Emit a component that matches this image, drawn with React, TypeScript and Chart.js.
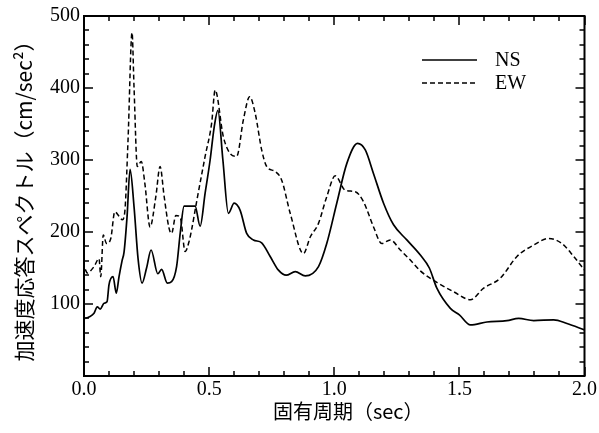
import React, { useEffect, useRef } from 'react';
import { Chart, registerables } from 'chart.js';

Chart.register(...registerables);

// ---- data (period in sec, spectral acceleration in cm/sec^2) ----
const nsPeriod = [
  0.005, 0.02, 0.04, 0.053, 0.065, 0.08, 0.092, 0.1, 0.116, 0.129, 0.14, 0.152, 0.16, 0.172, 0.184,
  0.2, 0.216, 0.232, 0.25, 0.268, 0.295, 0.31, 0.333, 0.35, 0.37, 0.385, 0.4, 0.444, 0.464, 0.484,
  0.504, 0.52, 0.535, 0.555, 0.577, 0.6, 0.624, 0.65, 0.677, 0.71, 0.744, 0.777, 0.808, 0.844, 0.884,
  0.937, 0.97, 1.01, 1.05, 1.093, 1.124, 1.157, 1.197, 1.237, 1.29, 1.344, 1.38, 1.41, 1.464, 1.5,
  1.544, 1.61, 1.69, 1.737, 1.797, 1.877, 1.93, 2.0,
];
const nsAccel = [
  80, 82, 87, 96, 93, 101, 103, 127, 138, 115, 138, 160, 172, 221, 287,
  235, 163, 129, 150, 175, 142, 148, 129, 131, 152, 200, 236, 236, 208, 254,
  300, 345, 369, 300, 226, 240, 230, 198, 189, 185, 166, 147, 140, 145, 139,
  152, 184, 240, 295, 323, 314, 281, 240, 210, 189, 168, 150, 122, 94, 85,
  71, 75, 77, 80, 77, 78, 73, 64,
];
const ewPeriod = [
  0.005, 0.013, 0.04, 0.06, 0.067, 0.077, 0.09, 0.107, 0.123, 0.14, 0.153, 0.163, 0.176, 0.192, 0.2,
  0.213, 0.229, 0.243, 0.264, 0.287, 0.304, 0.32, 0.34, 0.35, 0.367, 0.385, 0.404, 0.42, 0.43, 0.45,
  0.484, 0.51, 0.524, 0.557, 0.584, 0.61, 0.637, 0.662, 0.684, 0.71, 0.73, 0.764, 0.79, 0.824, 0.877,
  0.904, 0.937, 0.97, 1.004, 1.044, 1.084, 1.117, 1.157, 1.19, 1.224, 1.264, 1.304, 1.344, 1.41, 1.477,
  1.544, 1.597, 1.664, 1.73, 1.797, 1.857, 1.91, 1.957, 2.0,
];
const ewAccel = [
  148, 143, 152, 163, 138, 196, 184, 191, 228, 222, 217, 228, 328, 477, 400,
  291, 298, 268, 207, 249, 291, 250, 205, 198, 223, 220, 173, 187, 203, 242,
  305, 351, 397, 332, 309, 305, 356, 388, 365, 314, 291, 284, 272, 226, 170,
  193, 212, 249, 278, 258, 256, 242, 207, 184, 189, 175, 161, 146, 130, 117,
  106, 122, 136, 166, 182, 191, 184, 166, 147,
];
const seriesLabels = ['NS', 'EW'];
const xTitle = '固有周期（sec）';
const yTitle = '加速度応答スペクトル（cm/sec²）';

const toPoints = (xs: number[], ys: number[]) => xs.map((x, i) => ({ x, y: ys[i] }));

const framePlugin = {
  id: 'frameTicks',
  afterDatasetsDraw(chart: any) {
    const { ctx, chartArea, scales } = chart;
    const { left, right, top, bottom } = chartArea;
    const xs = scales.x;
    const ys = scales.y;
    ctx.save();
    ctx.strokeStyle = '#000';
    ctx.lineWidth = 2;
    ctx.strokeRect(left, top, right - left, bottom - top);
    ctx.lineWidth = 1.5;
    const seg = (x1: number, y1: number, x2: number, y2: number) => {
      ctx.beginPath();
      ctx.moveTo(x1, y1);
      ctx.lineTo(x2, y2);
      ctx.stroke();
    };
    for (let i = 0; i <= 20; i++) {
      const px = Math.round(xs.getPixelForValue(i * 0.1));
      const len = i % 5 === 0 ? 9 : 5;
      seg(px, bottom, px, bottom - len);
      seg(px, top, px, top + len);
    }
    for (let i = 0; i <= 25; i++) {
      const py = Math.round(ys.getPixelForValue(i * 20));
      const len = i % 5 === 0 ? 9 : 5;
      seg(left, py, left + len, py);
      seg(right, py, right - len, py);
    }
    ctx.restore();
  },
};

const textPlugin = {
  id: 'insideLegendAndTitle',
  afterDraw(chart: any) {
    const { ctx, chartArea } = chart;
    const x0 = 422;
    const x1 = 477;
    const rows = [60, 83];
    ctx.save();
    chart.data.datasets.forEach((ds: any, i: number) => {
      const y = rows[i];
      ctx.strokeStyle = ds.borderColor;
      ctx.lineWidth = ds.borderWidth;
      ctx.setLineDash(ds.borderDash || []);
      ctx.beginPath();
      ctx.moveTo(x0, y);
      ctx.lineTo(x1, y);
      ctx.stroke();
      ctx.setLineDash([]);
      ctx.fillStyle = '#000';
      ctx.font = '20px "Liberation Serif"';
      ctx.textBaseline = 'middle';
      ctx.textAlign = 'left';
      ctx.fillText(ds.label, 495, y + 1);
    });
    // x-axis title (shifted right of centre as in the source figure)
    ctx.font = '20px "Noto Sans CJK JP"';
    ctx.textAlign = 'center';
    ctx.textBaseline = 'middle';
    ctx.fillStyle = '#000';
    ctx.fillText(xTitle, (chartArea.left + chartArea.right) / 2 + 14, 411);
    ctx.restore();
  },
};

export default function App() {
  const canvasRef = useRef<HTMLCanvasElement | null>(null);

  useEffect(() => {
    if (!canvasRef.current) return;
    const chart = new Chart(canvasRef.current, {
      type: 'line',
      data: {
        datasets: [
          {
            label: seriesLabels[0],
            data: toPoints(nsPeriod, nsAccel),
            borderColor: '#000',
            borderWidth: 1.7,
            pointRadius: 0,
            fill: false,
            cubicInterpolationMode: 'monotone',
          },
          {
            label: seriesLabels[1],
            data: toPoints(ewPeriod, ewAccel),
            borderColor: '#000',
            borderWidth: 1.5,
            borderDash: [5, 3],
            pointRadius: 0,
            fill: false,
            cubicInterpolationMode: 'monotone',
          },
        ],
      },
      options: {
        animation: false,
        responsive: true,
        maintainAspectRatio: false,
        layout: { padding: { top: 16, right: 14, left: 0, bottom: 0 } },
        plugins: { legend: { display: false }, tooltip: { enabled: false } },
        scales: {
          x: {
            type: 'linear',
            min: 0,
            max: 2,
            grid: { display: false, drawTicks: false },
            border: { display: false },
            ticks: {
              stepSize: 0.5,
              autoSkip: false,
              maxRotation: 0,
              padding: 2,
              color: '#000',
              font: { family: 'Liberation Serif', size: 20 },
              callback: (v: any) => Number(v).toFixed(1),
            },
            title: { display: false },
            afterFit: (s: any) => {
              s.height = 57;
            },
          },
          y: {
            type: 'linear',
            min: 0,
            max: 500,
            grid: { display: false, drawTicks: false },
            border: { display: false },
            ticks: {
              stepSize: 100,
              padding: 4,
              color: '#000',
              font: { family: 'Liberation Serif', size: 20 },
              callback: (v: any) => (Number(v) === 0 ? '' : String(v)),
            },
            title: {
              display: true,
              text: yTitle,
              color: '#000',
              font: { family: 'Noto Sans CJK JP', size: 21 },
              padding: { top: 11, bottom: 0 },
            },
            afterFit: (s: any) => {
              s.width = 84;
            },
          },
        },
      },
      plugins: [framePlugin, textPlugin],
    } as any);
    return () => chart.destroy();
  }, []);

  return (
    <div style={{ position: 'fixed', left: 0, top: 0, width: 599, height: 433, background: '#fff' }}>
      <canvas ref={canvasRef} />
    </div>
  );
}
